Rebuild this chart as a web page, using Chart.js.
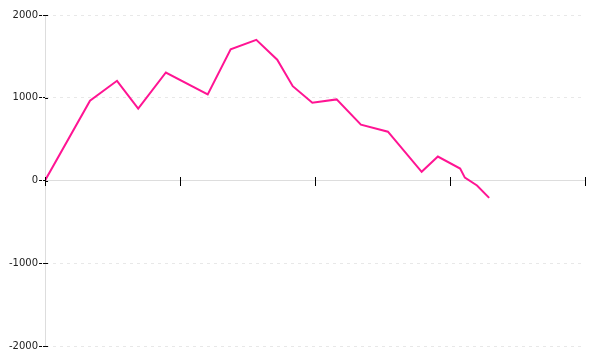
<!DOCTYPE html>
<html>
<head>
<meta charset="utf-8">
<script src="https://cdn.jsdelivr.net/npm/chart.js@4"></script>
<style>
  html, body { margin: 0; padding: 0; background: #fff; }
  #wrap { width: 600px; height: 360px; }
</style>
</head>
<body>
<div id="wrap"><canvas id="lineChart"></canvas></div>
<script>
// x positions of the points (uneven spacing) and their values
const xValues = [0, 3.33, 5.33, 6.9, 8.95, 12.05, 13.75, 15.65, 17.2, 18.35, 19.8, 21.6, 23.4, 25.4, 27.9, 29.1, 30.75, 31.1, 32, 32.9];
const yValues = [0, 965, 1205, 870, 1305, 1040, 1585, 1700, 1460, 1140, 940, 980, 675, 590, 105, 290, 145, 35, -60, -210];
const yTicks = [-2000, -1000, 0, 1000, 2000];

// tick marks in the reference cross the axis line
const crossTicks = {
    id: 'crossTicks',
    afterDraw(chart) {
        const c = chart.ctx;
        const xs = chart.scales.x, ys = chart.scales.y;
        const y0 = Math.round(ys.getPixelForValue(0));
        const x0 = xs.left;
        c.save();
        c.strokeStyle = '#000';
        c.lineWidth = 1;
        c.beginPath();
        xs.ticks.forEach(t => {
            const px = Math.round(xs.getPixelForValue(t.value)) + 0.5;
            c.moveTo(px, y0 - 4);
            c.lineTo(px, y0 + 5);
        });
        ys.ticks.forEach(t => {
            const py = Math.round(ys.getPixelForValue(t.value)) + 0.5;
            c.moveTo(x0, py);
            c.lineTo(x0 + 3, py);
        });
        c.stroke();
        c.restore();
    }
};

document.addEventListener('DOMContentLoaded', function() {
    const points = xValues.map((x, i) => ({ x: x, y: yValues[i] }));
    const ctx = document.getElementById('lineChart').getContext('2d');
    new Chart(ctx, {
        type: 'line',
        data: {
            datasets: [{
                data: points,
                borderColor: '#ff1493',
                borderWidth: 2,
                pointRadius: 0,
                tension: 0,
                fill: false
            }]
        },
        plugins: [crossTicks],
        options: {
            responsive: true,
            maintainAspectRatio: false,
            animation: false,
            layout: { padding: { top: 15, right: 15, bottom: 14, left: 8 } },
            plugins: { legend: { display: false }, tooltip: { enabled: false } },
            scales: {
                x: {
                    type: 'linear',
                    min: 0,
                    max: 40,
                    position: { y: 0 },
                    ticks: { stepSize: 10, display: false },
                    grid: { drawOnChartArea: false, drawTicks: false },
                    border: { color: '#dddddd', width: 1 }
                },
                y: {
                    min: -2000,
                    max: 2000,
                    afterBuildTicks: axis => { axis.ticks = yTicks.map(v => ({ value: v })); },
                    ticks: {
                        color: '#222',
                        padding: 1,
                        font: { family: 'DejaVu Sans', size: 10 },
                        callback: v => String(v)
                    },
                    grid: {
                        color: '#e8e8e8',
                        tickColor: '#000',
                        tickLength: 6,
                        tickBorderDash: [3, 1]
                    },
                    border: { color: '#dddddd', width: 1, dash: [3, 4] }
                }
            }
        }
    });
});
</script>
</body>
</html>
